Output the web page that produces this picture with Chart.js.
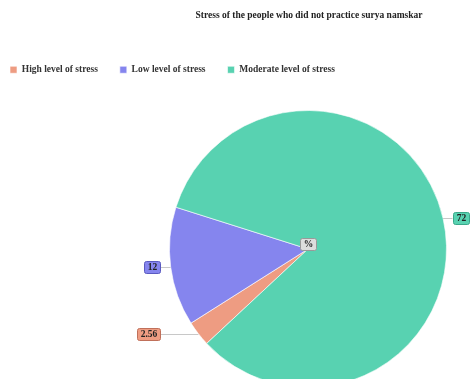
<!DOCTYPE html>
<html>
<head>
<meta charset="utf-8">
<script src="https://cdn.jsdelivr.net/npm/chart.js@4/dist/chart.umd.min.js"></script>
<style>
html,body{margin:0;padding:0;background:#fff;}
#wrap{width:473px;height:379px;position:relative;}
</style>
</head>
<body>
<div id="wrap"><canvas id="c" width="473" height="379"></canvas></div>
<script>
const titleText = 'Stress of the people who did not practice surya namskar';
const categories = ['High level of stress', 'Low level of stress', 'Moderate level of stress'];
const values = [2.56, 12, 72];
const colors = ['#EE9C82', '#8585EE', '#58D2B1'];
const borderColors = ['#C0705A', '#5A5AC0', '#3AA88A'];
const centerLabel = '%';

const FAMILY = '"Liberation Serif", "Times New Roman", serif';
const FONT = 'bold 9.5px ' + FAMILY;

const titlePlugin = {
  id: 'customTitle',
  afterDraw(chart) {
    const ctx = chart.ctx;
    ctx.save();
    ctx.font = FONT;
    ctx.fillStyle = '#222';
    ctx.textAlign = 'center';
    ctx.textBaseline = 'middle';
    ctx.fillText(titleText, 309, 16);
    ctx.restore();
  }
};

const areaPlugin = {
  id: 'pieArea',
  afterLayout(chart) {
    const a = chart.chartArea;
    a.left = 169; a.right = 447; a.top = 110; a.bottom = 388;
    a.width = a.right - a.left; a.height = a.bottom - a.top;
  }
};

function drawBox(ctx, text, cx, cy, fill, stroke) {
  ctx.font = FONT;
  const tw = ctx.measureText(text).width;
  const bw = Math.round(tw + 6), bh = 12;
  const x = Math.round(cx - bw / 2), y = Math.round(cy - bh / 2);
  ctx.fillStyle = fill;
  ctx.strokeStyle = stroke;
  ctx.lineWidth = 1;
  ctx.beginPath();
  if (ctx.roundRect) ctx.roundRect(x + 0.5, y + 0.5, bw, bh, 2); else ctx.rect(x + 0.5, y + 0.5, bw, bh);
  ctx.fill();
  ctx.stroke();
  ctx.fillStyle = '#222';
  ctx.textAlign = 'center';
  ctx.textBaseline = 'middle';
  ctx.fillText(text, x + bw / 2 + 0.5, y + bh / 2 + 1);
  return bw;
}

const labelPlugin = {
  id: 'sliceLabels',
  afterDatasetsDraw(chart) {
    const ctx = chart.ctx;
    const meta = chart.getDatasetMeta(0);
    ctx.save();
    ctx.font = FONT;
    let cxC = 0, cyC = 0;
    meta.data.forEach((arc, i) => {
      const p = arc.getProps(['x', 'y', 'startAngle', 'endAngle', 'outerRadius'], true);
      cxC = p.x; cyC = p.y;
      const mid = (p.startAngle + p.endAngle) / 2;
      const ex = p.x + p.outerRadius * Math.cos(mid);
      const ey = p.y + p.outerRadius * Math.sin(mid);
      const right = Math.cos(mid) >= 0;
      const text = String(values[i]);
      const tw = ctx.measureText(text).width;
      const bw = Math.round(tw + 6);
      let bx, lx;
      if (right) { lx = p.x + p.outerRadius + 6; bx = lx + bw / 2; }
      else { lx = p.x - p.outerRadius - 10; bx = lx - bw / 2; }
      ctx.strokeStyle = '#c8c8c8';
      ctx.lineWidth = 1;
      ctx.beginPath();
      ctx.moveTo(ex, Math.round(ey) + 0.5);
      ctx.lineTo(lx, Math.round(ey) + 0.5);
      ctx.stroke();
      drawBox(ctx, text, bx, Math.round(ey), colors[i], borderColors[i]);
    });
    drawBox(ctx, centerLabel, Math.round(cxC), Math.round(cyC) - 5, '#dddddd', '#999999');
    ctx.restore();
  }
};

new Chart(document.getElementById('c'), {
  type: 'pie',
  data: {
    labels: categories,
    datasets: [{
      data: values,
      backgroundColor: colors,
      borderColor: 'rgba(255,255,255,0.6)',
      borderWidth: 1
    }]
  },
  options: {
    responsive: false,
    animation: false,
    rotation: 227,
    layout: { padding: { top: 43, left: -12, right: 0, bottom: 0 } },
    plugins: {
      title: { display: false },
      tooltip: { enabled: false },
      legend: {
        display: true,
        position: 'top',
        align: 'start',
        labels: {
          boxWidth: 7,
          boxHeight: 7,
          padding: 22,
          color: '#333',
          font: { family: FAMILY, size: 9.5, weight: 'bold' }
        }
      }
    }
  },
  plugins: [areaPlugin, labelPlugin, titlePlugin]
});
</script>
</body>
</html>
